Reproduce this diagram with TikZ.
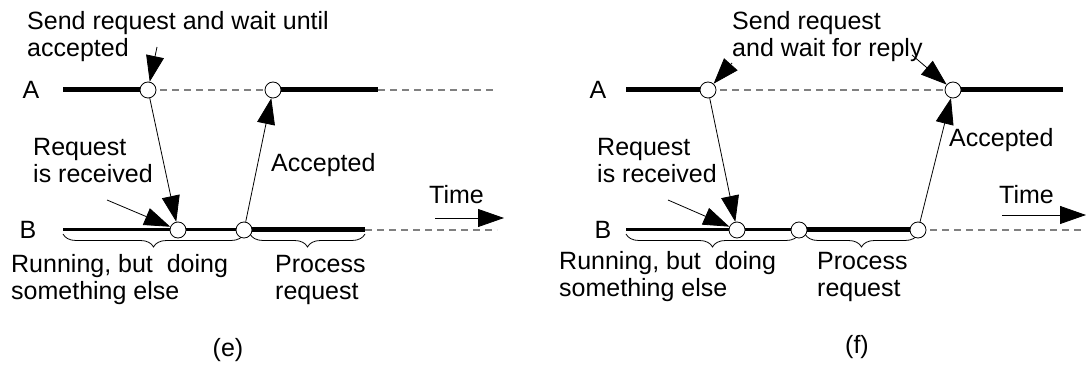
\documentclass[tikz,border=0pt]{standalone}
\usepackage{fontspec}
\setmainfont{Liberation Sans}
\usetikzlibrary{arrows.meta,decorations.pathreplacing}
\begin{document}
\begin{tikzpicture}[x=1pt,y=1pt,
  font=\fontsize{25}{27}\selectfont,
  evt/.style={circle,draw,fill=white,line width=0.8pt,minimum size=16pt,inner sep=0pt},
  busy/.style={line width=5pt},
  run/.style={line width=3pt},
  idle/.style={draw=gray,line width=1.2pt,dash pattern=on 7pt off 5pt},
  msg/.style={line width=0.8pt,-{Triangle[length=26pt,width=18pt]}},
  txt/.style={anchor=west,align=left,inner sep=0pt},
  brc/.style={line width=0.8pt,decorate,decoration={brace,mirror,amplitude=13pt}}]
\useasboundingbox (0,0) rectangle (1086,364);
% ---------------- panel (e)
\coordinate (peA1) at (148,274);
\coordinate (peA2) at (273,274);
\coordinate (peB1) at (178,134);
\coordinate (peB2) at (244,134);
\coordinate (eAs) at (63,274);
\coordinate (eAe) at (378,274);
\coordinate (eAd) at (497,274);
\coordinate (eBs) at (63,134);
\coordinate (eBe) at (365,134);
\coordinate (eBd) at (497,134);
\draw[brc] (63,130) -- (244,130);
\draw[brc] (250,130) -- (365,130);
\draw[busy] (eAs) -- (peA1);
\draw[idle] (peA1) -- (peA2);
\draw[busy] (peA2) -- (eAe);
\draw[idle] (eAe) -- (eAd);
\draw[run] (eBs) -- (peB1) -- (peB2);
\draw[busy] (peB2) -- (eBe);
\draw[idle] (eBe) -- (eBd);
\node[evt] (eA1) at (peA1) {};
\node[evt] (eA2) at (peA2) {};
\node[evt] (eB1) at (peB1) {};
\node[evt] (eB2) at (peB2) {};
\node (eA) at (31,274) {A};
\node (eB) at (28,134) {B};
\draw[msg] (eA1) -- (eB1);
\draw[msg] (eB2) -- (eA2);
\node[txt] (eSend) at (27,327.5) {Send request and wait until\\accepted};
\coordinate (eSendp) at (157,317);
\draw[msg] (eSendp) -- (eA1);
\node[txt] (eRecv) at (33,203.5) {Request\\is received};
\coordinate (eRecvp) at (107,164);
\draw[msg] (eRecvp) -- (eB1);
\node[txt] (eAcc) at (271,199) {Accepted};
\node[txt] (eTime) at (429,169) {Time};
\coordinate (eT1) at (435,146);
\coordinate (eT2) at (504,146);
\draw[msg] (eT1) -- (eT2);
\node[txt] (eRun) at (11,84) {Running, but~ doing\\something else};
\node[txt] (eProc) at (275,84) {Process\\request};
\node (eCap) at (228,14) {(e)};
% ---------------- panel (f)
\coordinate (pfA1) at (708,274);
\coordinate (pfA2) at (953,274);
\coordinate (pfB1) at (737,134);
\coordinate (pfB2) at (799,134);
\coordinate (pfB3) at (918,134);
\coordinate (fAs) at (626,274);
\coordinate (fAe) at (1063,274);
\coordinate (fBs) at (626,134);
\coordinate (fBd) at (1086,134);
\draw[brc] (626,130) -- (799,130);
\draw[brc] (805,130) -- (918,130);
\draw[busy] (fAs) -- (pfA1);
\draw[idle] (pfA1) -- (pfA2);
\draw[busy] (pfA2) -- (fAe);
\draw[run] (fBs) -- (pfB1) -- (pfB2);
\draw[busy] (pfB2) -- (pfB3);
\draw[idle] (pfB3) -- (fBd);
\node[evt] (fA1) at (pfA1) {};
\node[evt] (fA2) at (pfA2) {};
\node[evt] (fB1) at (pfB1) {};
\node[evt] (fB2) at (pfB2) {};
\node[evt] (fB3) at (pfB3) {};
\node (fA) at (598,274) {A};
\node (fB) at (603,134) {B};
\draw[msg] (fA1) -- (fB1);
\draw[msg] (fB3) -- (fA2);
\node[txt] (fSend) at (732,327.5) {Send request\\and wait for reply};
\coordinate (fSendp1) at (732,301);
\coordinate (fSendp2) at (912,309);
\draw[msg] (fSendp1) -- (fA1);
\draw[msg] (fSendp2) -- (fA2);
\node[txt] (fRecv) at (597,203.5) {Request\\is received};
\coordinate (fRecvp) at (668,164);
\draw[msg] (fRecvp) -- (fB1);
\node[txt] (fAcc) at (949,224) {Accepted};
\node[txt] (fTime) at (999,169) {Time};
\coordinate (fT1) at (1002,149);
\coordinate (fT2) at (1086,149);
\draw[msg] (fT1) -- (fT2);
\node[txt] (fRun) at (559,87.5) {Running, but~ doing\\something else};
\node[txt] (fProc) at (817,87.5) {Process\\request};
\node (fCap) at (857,17) {(f)};
\end{tikzpicture}
\end{document}
